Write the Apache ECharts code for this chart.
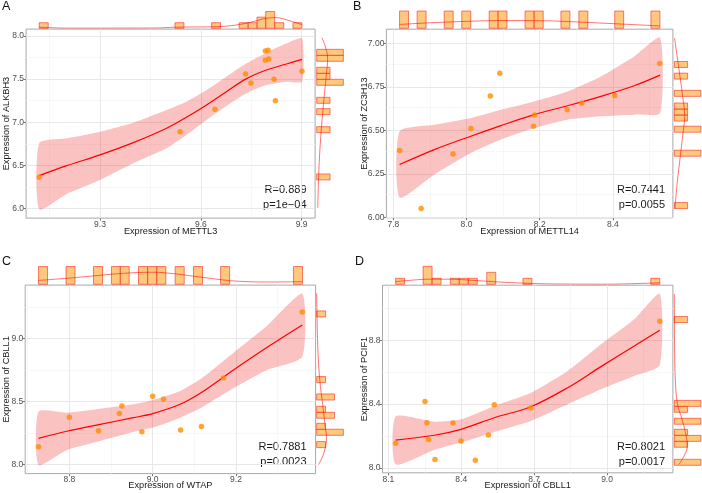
<!DOCTYPE html>
<html>
<head>
<meta charset="utf-8">
<script src="https://cdn.jsdelivr.net/npm/echarts@6/dist/echarts.min.js"></script>
<style>
html, body { margin: 0; padding: 0; background: #fff; }
#chart { width: 702px; height: 493px; }
</style>
</head>
<body>
<div id="chart"></div>
<script>
// ---------- A: METTL3 / ALKBH3
const aX = [9.119, 9.538, 9.642, 9.733, 9.749, 9.792, 9.800, 9.792, 9.802, 9.818, 9.822, 9.901];
const aY = [6.363, 6.892, 7.151, 7.560, 7.456, 7.826, 7.834, 7.718, 7.734, 7.498, 7.251, 7.591];
const aFitX = [9.119, 9.201, 9.300, 9.399, 9.498, 9.557, 9.617, 9.676, 9.736, 9.795, 9.855, 9.901];
const aFit = [6.382, 6.498, 6.622, 6.764, 6.931, 7.058, 7.201, 7.355, 7.506, 7.606, 7.676, 7.730];
const aUpper = [6.757, 6.815, 6.892, 6.996, 7.143, 7.239, 7.375, 7.529, 7.683, 7.807, 7.915, 7.973];
const aLower = [5.992, 6.170, 6.332, 6.525, 6.699, 6.853, 7.027, 7.189, 7.336, 7.432, 7.471, 7.471];
const aTopLo = [9.119, 9.523, 9.632, 9.714, 9.741, 9.767, 9.793, 9.820, 9.874];
const aTopN = [1, 1, 1, 1, 1, 2, 3, 1, 1];
const aSideLo = [6.332, 6.880, 7.089, 7.220, 7.429, 7.498, 7.568, 7.707, 7.776];
const aSideN = [1, 1, 1, 1, 2, 1, 1, 2, 2];
const aTopDx = [9.119, 9.211, 9.459, 9.528, 9.647, 9.707, 9.756, 9.796, 9.826, 9.856, 9.901];
const aTopD = [0.2, 0.03, 0.05, 0.2, 0.3, 0.6, 1.2, 1.8, 1.9, 1.5, 0.65];
const aSideDy = [6.01, 6.39, 6.78, 7.16, 7.55, 7.74, 7.90, 7.98];
const aSideD = [0.08, 0.15, 0.28, 0.48, 0.72, 0.82, 0.6, 0.38];

// ---------- B: METTL14 / ZC3H13
const bX = [7.817, 7.876, 7.963, 8.012, 8.065, 8.091, 8.183, 8.186, 8.275, 8.315, 8.405, 8.528];
const bY = [6.384, 6.050, 6.364, 6.510, 6.697, 6.828, 6.523, 6.588, 6.618, 6.655, 6.700, 6.884];
const bFitX = [7.817, 7.912, 8.012, 8.094, 8.185, 8.276, 8.367, 8.458, 8.529];
const bFit = [6.303, 6.389, 6.466, 6.527, 6.590, 6.641, 6.695, 6.756, 6.817];
const bUpper = [6.494, 6.532, 6.571, 6.618, 6.666, 6.723, 6.809, 6.924, 7.032];
const bLower = [6.113, 6.246, 6.370, 6.447, 6.513, 6.561, 6.580, 6.590, 6.599];
const bTopLo = [7.817, 7.865, 7.939, 7.987, 8.062, 8.086, 8.160, 8.185, 8.258, 8.307, 8.405, 8.504];
const bTopN = [1, 1, 1, 1, 1, 1, 1, 1, 1, 1, 1, 1];
const bSideLo = [6.050, 6.351, 6.489, 6.553, 6.588, 6.622, 6.695, 6.794, 6.861];
const bSideN = [1, 2, 2, 1, 1, 1, 2, 1, 1];
const bTopDx = [7.817, 7.9, 8.0, 8.1, 8.2, 8.3, 8.4, 8.528];
const bTopD = [0.22, 0.32, 0.40, 0.45, 0.44, 0.37, 0.27, 0.14];
const bSideDy = [6.05, 6.2, 6.35, 6.5, 6.58, 6.7, 6.85, 7.03];
const bSideD = [0.05, 0.22, 0.45, 0.68, 0.78, 0.62, 0.35, 0.02];

// ---------- C: WTAP / CBLL1
const cX = [8.726, 8.800, 8.870, 8.920, 8.926, 8.974, 9.000, 9.026, 9.067, 9.117, 9.170, 9.359];
const cY = [8.143, 8.376, 8.270, 8.405, 8.466, 8.262, 8.542, 8.519, 8.275, 8.302, 8.688, 9.212];
const cFitX = [8.726, 8.794, 8.874, 8.954, 9.000, 9.066, 9.114, 9.194, 9.274, 9.359];
const cFit = [8.209, 8.265, 8.320, 8.373, 8.405, 8.479, 8.566, 8.751, 8.929, 9.108];
const cUpper = [8.421, 8.413, 8.444, 8.479, 8.513, 8.585, 8.677, 8.889, 9.101, 9.357];
const cLower = [7.997, 8.116, 8.188, 8.259, 8.294, 8.373, 8.447, 8.606, 8.751, 8.857];
const cTopLo = [8.726, 8.792, 8.858, 8.901, 8.922, 8.966, 8.988, 9.010, 9.054, 9.098, 9.163, 9.338];
const cTopN = [1, 1, 1, 1, 1, 1, 1, 1, 1, 1, 1, 1];
const cSideLo = [8.135, 8.233, 8.280, 8.368, 8.415, 8.513, 8.651, 9.172];
const cSideN = [1, 3, 1, 2, 1, 2, 1, 1];
const cTopDx = [8.726, 8.8, 8.87, 8.93, 9.0, 9.05, 9.1, 9.15, 9.2, 9.28, 9.359];
const cTopD = [0.22, 0.35, 0.5, 0.62, 0.68, 0.6, 0.45, 0.3, 0.18, 0.13, 0.15];
const cSideDy = [8.0, 8.09, 8.22, 8.30, 8.46, 8.67, 8.94, 9.36];
const cSideD = [0.2, 0.8, 1.1, 0.96, 0.7, 0.35, 0.12, 0.0];

// ---------- D: CBLL1 / PCIF1
const dX = [8.130, 8.251, 8.259, 8.265, 8.292, 8.366, 8.399, 8.458, 8.512, 8.536, 8.686, 9.217];
const dY = [8.155, 8.416, 8.284, 8.178, 8.054, 8.282, 8.169, 8.048, 8.207, 8.397, 8.376, 8.919];
const dFitX = [8.130, 8.289, 8.399, 8.536, 8.687, 8.838, 8.975, 9.112, 9.217];
const dFit = [8.175, 8.205, 8.242, 8.315, 8.384, 8.503, 8.635, 8.764, 8.863];
const dUpper = [8.322, 8.290, 8.305, 8.389, 8.472, 8.608, 8.775, 8.932, 9.092];
const dLower = [8.023, 8.113, 8.159, 8.226, 8.295, 8.399, 8.493, 8.576, 8.645];
const dTopLo = [8.130, 8.243, 8.280, 8.355, 8.392, 8.429, 8.505, 8.654, 9.180];
const dTopN = [1, 3, 1, 1, 1, 1, 2, 1, 1];
const dSideLo = [8.017, 8.130, 8.167, 8.205, 8.274, 8.349, 8.386, 8.911];
const dSideN = [2, 1, 2, 1, 2, 1, 2, 1];
const dTopDx = [8.13, 8.2, 8.27, 8.35, 8.45, 8.55, 8.65, 8.8, 9.0, 9.1, 9.217];
const dTopD = [0.45, 0.7, 0.85, 0.85, 0.65, 0.4, 0.2, 0.05, 0.02, 0.1, 0.25];
const dSideDy = [8.023, 8.07, 8.133, 8.196, 8.30, 8.405, 8.55, 8.76, 9.09];
const dSideD = [0.35, 0.7, 0.97, 0.9, 0.6, 0.23, 0.08, 0.02, 0.0];

// ticks
const aXTicks = [9.3, 9.6, 9.9], aXMinor = [9.15, 9.45, 9.75];
const aYTicks = [6.0, 6.5, 7.0, 7.5, 8.0], aYMinor = [6.25, 6.75, 7.25, 7.75];
const bXTicks = [7.8, 8.0, 8.2, 8.4], bXMinor = [7.9, 8.1, 8.3, 8.5];
const bYTicks = [6.0, 6.25, 6.5, 6.75, 7.0], bYMinor = [6.125, 6.375, 6.625, 6.875];
const cXTicks = [8.8, 9.0, 9.2], cXMinor = [8.7, 8.9, 9.1, 9.3];
const cYTicks = [8.0, 8.5, 9.0], cYMinor = [8.25, 8.75, 9.25];
const dXTicks = [8.1, 8.4, 8.7, 9.0], dXMinor = [8.25, 8.55, 8.85, 9.15];
const dYTicks = [8.0, 8.4, 8.8], dYMinor = [8.2, 8.6, 9.0];

const panelTags = ['A', 'B', 'C', 'D'];
const xNames = ['Expression of METTL3', 'Expression of METTL14', 'Expression of WTAP', 'Expression of CBLL1'];
const yNames = ['Expression of ALKBH3', 'Expression of ZC3H13', 'Expression of CBLL1', 'Expression of PCIF1'];
const statR = ['R=0.889', 'R=0.7441', 'R=0.7881', 'R=0.8021'];
const statP = ['p=1e\u221204', 'p=0.0055', 'p=0.0023', 'p=0.0017'];

const FONT = '"Liberation Sans", Arial, Helvetica, sans-serif';
const ORANGE = '#FF8C00';

const panels = [
  {
    xs: aX, ys: aY, fitX: aFitX, fit: aFit, up: aUpper, lo: aLower,
    topLo: aTopLo, topN: aTopN, topW: 0.0267, sideLo: aSideLo, sideN: aSideN, sideW: 0.0695,
    topDx: aTopDx, topD: aTopD, sideDy: aSideDy, sideD: aSideD,
    xTicks: aXTicks, xMinor: aXMinor, yTicks: aYTicks, yMinor: aYMinor, xDec: 1, yDec: 1,
    box: { left: 26.1, top: 29.1, width: 289, height: 189 }, xMin: 9.08, xMax: 9.94, yMin: 5.89, yMax: 8.08,
    top: { top: 11.3, height: 17, max: 3.04 }, side: { left: 316.7, width: 28, max: 2.1 },
    yGap: 15, xGap: 8.5, tagPos: [2, 0], stat: [306.5, 190.3]
  },
  {
    xs: bX, ys: bY, fitX: bFitX, fit: bFit, up: bUpper, lo: bLower,
    topLo: bTopLo, topN: bTopN, topW: 0.0245, sideLo: bSideLo, sideN: bSideN, sideW: 0.0345,
    topDx: bTopDx, topD: bTopD, sideDy: bSideDy, sideD: bSideD,
    xTicks: bXTicks, xMinor: bXMinor, yTicks: bYTicks, yMinor: bYMinor, xDec: 1, yDec: 2,
    box: { left: 386.4, top: 29.2, width: 286.5, height: 188.6 }, xMin: 7.781, xMax: 8.564, yMin: 5.997, yMax: 7.081,
    top: { top: 10, height: 18.3, max: 1.06 }, side: { left: 674.3, width: 27, max: 2.03 },
    yGap: 17.5, xGap: 8.8, tagPos: [353, 0], stat: [665, 190.3]
  },
  {
    xs: cX, ys: cY, fitX: cFitX, fit: cFit, up: cUpper, lo: cLower,
    topLo: cTopLo, topN: cTopN, topW: 0.0216, sideLo: cSideLo, sideN: cSideN, sideW: 0.048,
    topDx: cTopDx, topD: cTopD, sideDy: cSideDy, sideD: cSideD,
    xTicks: cXTicks, xMinor: cXMinor, yTicks: cYTicks, yMinor: cYMinor, xDec: 1, yDec: 1,
    box: { left: 25.2, top: 285.1, width: 290.4, height: 188.5 }, xMin: 8.694, xMax: 9.391, yMin: 7.929, yMax: 9.425,
    top: { top: 265.3, height: 19, max: 1.07 }, side: { left: 316.7, width: 28, max: 3.15 },
    yGap: 14, xGap: 7.8, tagPos: [2, 255], stat: [306.5, 446.7]
  },
  {
    xs: dX, ys: dY, fitX: dFitX, fit: dFit, up: dUpper, lo: dLower,
    topLo: dTopLo, topN: dTopN, topW: 0.037, sideLo: dSideLo, sideN: dSideN, sideW: 0.0375,
    topDx: dTopDx, topD: dTopD, sideDy: dSideDy, sideD: dSideD,
    xTicks: dXTicks, xMinor: dXMinor, yTicks: dYTicks, yMinor: dYMinor, xDec: 1, yDec: 1,
    box: { left: 382.5, top: 285.2, width: 290.4, height: 187.6 }, xMin: 8.076, xMax: 9.271, yMin: 7.97, yMax: 9.145,
    top: { top: 266.3, height: 18, max: 3.0 }, side: { left: 674.3, width: 27, max: 2.03 },
    yGap: 14, xGap: 8.3, tagPos: [355, 255], stat: [665, 446.7]
  }
];

const grids = [], xAxes = [], yAxes = [], series = [], graphics = [];

panels.forEach((p, i) => {
  const g = 3 * i;
  // main panel, top margin, right margin
  grids.push({ left: p.box.left, top: p.box.top, width: p.box.width, height: p.box.height,
    show: true, backgroundColor: '#fff', borderColor: '#A8A8A8', borderWidth: 1, z: 0,
    containLabel: false, outerBoundsMode: 'none' });
  grids.push({ left: p.box.left, top: p.top.top, width: p.box.width, height: p.top.height,
    containLabel: false, outerBoundsMode: 'none' });
  grids.push({ left: p.side.left, top: p.box.top, width: p.side.width, height: p.box.height,
    containLabel: false, outerBoundsMode: 'none' });

  xAxes.push({
    gridIndex: g, type: 'value', min: p.xMin, max: p.xMax,
    axisLine: { show: false },
    axisTick: { show: true, length: 2.5, lineStyle: { color: '#777' }, customValues: p.xTicks },
    axisLabel: { customValues: p.xTicks, formatter: (v) => v.toFixed(p.xDec),
      fontSize: 8.5, color: '#4D4D4D', margin: 2, fontFamily: FONT },
    splitLine: { show: false },
    name: xNames[i], nameLocation: 'middle', nameGap: p.xGap, nameMoveOverlap: false,
    nameTextStyle: { fontSize: 9.2, color: '#1A1A1A', fontFamily: FONT, verticalAlign: 'top' }
  });
  yAxes.push({
    gridIndex: g, type: 'value', min: p.yMin, max: p.yMax,
    axisLine: { show: false },
    axisTick: { show: true, length: 2.5, lineStyle: { color: '#777' }, customValues: p.yTicks },
    axisLabel: { customValues: p.yTicks, formatter: (v) => v.toFixed(p.yDec),
      fontSize: 8.5, color: '#4D4D4D', margin: 2, fontFamily: FONT },
    splitLine: { show: false },
    name: yNames[i], nameLocation: 'middle', nameGap: p.yGap, nameMoveOverlap: false,
    nameTextStyle: { fontSize: 9.2, color: '#1A1A1A', fontFamily: FONT }
  });
  xAxes.push({ gridIndex: g + 1, type: 'value', min: p.xMin, max: p.xMax, show: false });
  yAxes.push({ gridIndex: g + 1, type: 'value', min: 0, max: p.top.max, show: false });
  xAxes.push({ gridIndex: g + 2, type: 'value', min: 0, max: p.side.max, show: false });
  yAxes.push({ gridIndex: g + 2, type: 'value', min: p.yMin, max: p.yMax, show: false });

  // grid lines
  const lines = [];
  p.xMinor.forEach((v) => lines.push({ xAxis: v, lineStyle: { color: '#F3F3F3', width: 0.7, type: 'solid' } }));
  p.yMinor.forEach((v) => lines.push({ yAxis: v, lineStyle: { color: '#F3F3F3', width: 0.7, type: 'solid' } }));
  p.xTicks.forEach((v) => lines.push({ xAxis: v, lineStyle: { color: '#E8E8E8', width: 1, type: 'solid' } }));
  p.yTicks.forEach((v) => lines.push({ yAxis: v, lineStyle: { color: '#E8E8E8', width: 1, type: 'solid' } }));
  series.push({
    type: 'line', xAxisIndex: g, yAxisIndex: g, z: 1, silent: true,
    data: [[p.xs[0], p.ys[0]]], showSymbol: false, lineStyle: { opacity: 0 },
    markLine: { silent: true, z: 1, symbol: ['none', 'none'], label: { show: false },
      emphasis: { disabled: true }, animation: false, data: lines }
  });

  // confidence band
  series.push({
    type: 'custom', xAxisIndex: g, yAxisIndex: g, z: 2, silent: true,
    data: p.fitX.map((x, k) => [x, p.lo[k], p.up[k]]),
    renderItem: (params, api) => {
      if (params.dataIndex !== 0) return null;
      const pts = [];
      p.fitX.forEach((x, k) => pts.push(api.coord([x, p.up[k]])));
      for (let k = p.fitX.length - 1; k >= 0; k--) pts.push(api.coord([p.fitX[k], p.lo[k]]));
      return { type: 'polygon', shape: { points: pts, smooth: 0.2 },
        style: { fill: 'rgba(240,0,0,0.24)' } };
    }
  });
  // fit line
  series.push({
    type: 'line', xAxisIndex: g, yAxisIndex: g, z: 3, silent: true,
    data: p.fitX.map((x, k) => [x, p.fit[k]]),
    smooth: 0.35, showSymbol: false, lineStyle: { color: '#FF0000', width: 1.2 }
  });
  // points
  series.push({
    type: 'scatter', xAxisIndex: g, yAxisIndex: g, z: 4, silent: true,
    data: p.xs.map((x, k) => [x, p.ys[k]]),
    symbolSize: 5.5, itemStyle: { color: ORANGE }
  });

  // top histogram + density
  series.push({
    type: 'custom', xAxisIndex: g + 1, yAxisIndex: g + 1, silent: true, clip: false,
    data: p.topLo.map((v, k) => [v, p.topN[k]]),
    renderItem: (params, api) => {
      const lo = api.value(0), n = api.value(1);
      const a = api.coord([lo, 0]), b = api.coord([lo + p.topW, n]);
      return { type: 'rect', shape: { x: a[0], y: b[1], width: b[0] - a[0], height: a[1] - b[1] },
        style: { fill: 'rgba(253,176,70,0.7)', stroke: 'rgba(250,40,30,0.6)', lineWidth: 1 } };
    }
  });
  series.push({
    type: 'line', xAxisIndex: g + 1, yAxisIndex: g + 1, silent: true, z: 3,
    data: p.topDx.map((x, k) => [x, p.topD[k]]),
    smooth: 0.4, showSymbol: false, lineStyle: { color: 'rgba(255,0,0,0.55)', width: 1 }
  });

  // right histogram + density
  series.push({
    type: 'custom', xAxisIndex: g + 2, yAxisIndex: g + 2, silent: true, clip: false,
    data: p.sideLo.map((v, k) => [p.sideN[k], v]),
    renderItem: (params, api) => {
      const n = api.value(0), lo = api.value(1);
      const a = api.coord([0, lo]), b = api.coord([n, lo + p.sideW]);
      return { type: 'rect', shape: { x: a[0], y: b[1], width: b[0] - a[0], height: a[1] - b[1] },
        style: { fill: 'rgba(253,176,70,0.7)', stroke: 'rgba(250,40,30,0.6)', lineWidth: 1 } };
    }
  });
  series.push({
    type: 'line', xAxisIndex: g + 2, yAxisIndex: g + 2, silent: true, z: 3,
    data: p.sideDy.map((y, k) => [p.sideD[k], y]),
    smooth: 0.4, showSymbol: false, lineStyle: { color: 'rgba(255,0,0,0.55)', width: 1 }
  });

  // panel tag and stats
  graphics.push({ type: 'text', left: p.tagPos[0], top: p.tagPos[1],
    style: { text: panelTags[i], fontSize: 12.5, fill: '#111', fontFamily: FONT } });
  graphics.push({ type: 'text', x: p.stat[0], y: p.stat[1],
    style: { text: statR[i], fontSize: 11, fill: '#1A1A1A', fontFamily: FONT, align: 'right', verticalAlign: 'middle' } });
  graphics.push({ type: 'text', x: p.stat[0], y: p.stat[1] + 15,
    style: { text: statP[i], fontSize: 11, fill: '#1A1A1A', fontFamily: FONT, align: 'right', verticalAlign: 'middle' } });
});

const chart = echarts.init(document.getElementById('chart'), null, { renderer: 'canvas' });
chart.setOption({
  backgroundColor: '#fff',
  animation: false,
  textStyle: { fontFamily: FONT },
  grid: grids,
  xAxis: xAxes,
  yAxis: yAxes,
  series: series,
  graphic: graphics
});
</script>
</body>
</html>
